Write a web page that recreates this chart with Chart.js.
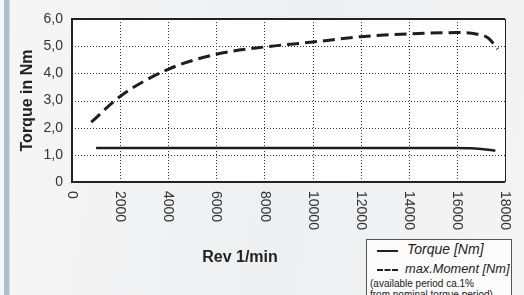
<!DOCTYPE html>
<html>
<head>
<meta charset="utf-8">
<script src="https://cdn.jsdelivr.net/npm/chart.js@4/dist/chart.umd.min.js"></script>
<style>
  body { margin: 0; width: 524px; height: 295px; overflow: hidden;
         background: linear-gradient(100deg, #f6f6f7 0%, #eeeff0 55%, #f4f4f5 100%);
         font-family: "Liberation Sans", Arial, sans-serif; position: relative; }
  #bar { position: absolute; left: 4px; top: 0; width: 5px; height: 295px;
         background: #a9bfd1; border-right: 1px solid #d3dfe8; }
  #wrap { position: absolute; left: 0; top: 0; width: 524px; height: 295px; }
  #legend { position: absolute; left: 366px; top: 239px; width: 144px; height: 70px;
            border: 1px solid #555; background: #fbfbfb; color: #222; }
  #legend .t { position: absolute; font-style: italic; font-size: 14px; white-space: nowrap; }
  #legend .s { position: absolute; height: 0; border-top: 2px solid #222; }
  #legend .note { position: absolute; left: 3px; font-size: 10px; white-space: nowrap; color: #222; }
</style>
</head>
<body>
<div id="bar"></div>
<div id="wrap"><canvas id="myChart" width="524" height="295"></canvas></div>
<div id="legend">
  <div class="s" style="left:10px; top:10px; width:21px"></div>
  <div class="t" style="left:40px; top:1px">Torque [Nm]</div>
  <div class="s" style="left:10px; top:29px; width:21px; border-top-style:dashed"></div>
  <div class="t" style="left:38px; top:21px; font-size:12.8px">max.Moment [Nm]</div>
  <div class="note" style="top:38px">(available period ca.1%</div>
  <div class="note" style="top:49px">from nominal torque period)</div>
</div>
<script>
// values
let revTorque = [1000, 2000, 4000, 6000, 8000, 10000, 12000, 14000, 16000, 16600, 17200, 17600];
let torque    = [1.25, 1.25, 1.25, 1.25, 1.25, 1.25, 1.25, 1.25, 1.25, 1.24, 1.2, 1.15];

let revMax = [800, 2000, 4000, 6000, 8000, 10000, 12000, 14000, 16000, 16800, 17300, 17700];
let maxMoment = [2.2, 3.15, 4.15, 4.7, 4.97, 5.15, 5.35, 5.45, 5.5, 5.45, 5.3, 4.9];

let xTicks = [0, 2000, 4000, 6000, 8000, 10000, 12000, 14000, 16000, 18000];
let yTicks = [0, 1, 2, 3, 4, 5, 6];

function pts(xs, ys) {
    let out = [];
    for (let i = 0; i < xs.length; i++) {
        out[i] = {x: xs[i], y: ys[i]};
    }
    return out;
}

// grid, frame and rotated x labels
let frame = {
    id: 'frame',
    beforeDatasetsDraw(chart) {
        let ctx = chart.ctx, a = chart.chartArea;
        let sx = chart.scales.x, sy = chart.scales.y;
        ctx.save();
        ctx.fillStyle = '#fff';
        ctx.fillRect(a.left, a.top, a.right - a.left, a.bottom - a.top);
        ctx.strokeStyle = '#333';
        ctx.lineWidth = 1;
        ctx.setLineDash([1, 2]);
        xTicks.slice(1, -1).forEach(v => {
            let px = Math.round(sx.getPixelForValue(v)) + 0.5;
            ctx.beginPath(); ctx.moveTo(px, a.top); ctx.lineTo(px, a.bottom); ctx.stroke();
        });
        yTicks.slice(1, -1).forEach(v => {
            let py = Math.round(sy.getPixelForValue(v)) + 0.5;
            ctx.beginPath(); ctx.moveTo(a.left, py); ctx.lineTo(a.right, py); ctx.stroke();
        });
        ctx.restore();
    },
    afterDatasetsDraw(chart) {
        let ctx = chart.ctx, a = chart.chartArea;
        ctx.save();
        ctx.strokeStyle = '#222';
        ctx.lineWidth = 2;
        ctx.beginPath();
        ctx.moveTo(a.right, a.top); ctx.lineTo(a.left, a.top);
        ctx.lineTo(a.left, a.bottom); ctx.lineTo(a.right, a.bottom);
        ctx.stroke();
        ctx.lineWidth = 1;
        ctx.beginPath(); ctx.moveTo(a.right + 0.5, a.top); ctx.lineTo(a.right + 0.5, a.bottom); ctx.stroke();
        ctx.restore();
    },
    afterDraw(chart) {
        let ctx = chart.ctx, sx = chart.scales.x;
        ctx.save();
        ctx.fillStyle = '#333';
        ctx.font = '14px "Liberation Sans", Arial, sans-serif';
        ctx.textAlign = 'left';
        ctx.textBaseline = 'middle';
        xTicks.forEach(v => {
            ctx.save();
            ctx.translate(sx.getPixelForValue(v), 191);
            ctx.rotate(Math.PI / 2);
            ctx.fillText(String(v), 0, 0);
            ctx.restore();
        });
        ctx.fillStyle = '#222';
        ctx.font = 'bold 16px "Liberation Sans", Arial, sans-serif';
        ctx.textAlign = 'center';
        ctx.fillText('Rev 1/min', 240, 258);
        ctx.restore();
    }
};

let ctx = document.getElementById('myChart').getContext('2d');
new Chart(ctx, {
    type: 'line',
    data: {
        datasets: [{
            label: 'Torque [Nm]',
            data: pts(revTorque, torque),
            borderColor: '#1e1e1e',
            borderWidth: 2.5,
            pointRadius: 0,
            tension: 0.3,
            fill: false
        }, {
            label: 'max.Moment [Nm]',
            data: pts(revMax, maxMoment),
            borderColor: '#1e1e1e',
            borderWidth: 3,
            borderDash: [12, 6],
            pointRadius: 0,
            cubicInterpolationMode: 'monotone',
            fill: false
        }]
    },
    options: {
        responsive: false,
        animation: false,
        layout: {padding: {top: 19, right: 19, left: 0, bottom: 0}},
        plugins: {legend: {display: false}, tooltip: {enabled: false}},
        scales: {
            x: {
                type: 'linear', min: 0, max: 18000,
                ticks: {display: false},
                grid: {display: false},
                border: {display: false},
                afterFit: s => { s.height = 113; }
            },
            y: {
                min: 0, max: 6,
                ticks: {
                    stepSize: 1,
                    color: '#333',
                    padding: 1,
                    font: {family: '"Liberation Sans", Arial, sans-serif', size: 14},
                    callback: v => v === 0 ? '0' : v.toFixed(1).replace('.', ',')
                },
                grid: {display: false},
                border: {display: false},
                title: {
                    display: true,
                    text: 'Torque in Nm',
                    color: '#222',
                    padding: {top: 18, bottom: 0},
                    font: {family: '"Liberation Sans", Arial, sans-serif', size: 16, weight: 'bold'}
                },
                afterFit: s => { s.width = 72; }
            }
        }
    },
    plugins: [frame]
});
</script>
</body>
</html>
